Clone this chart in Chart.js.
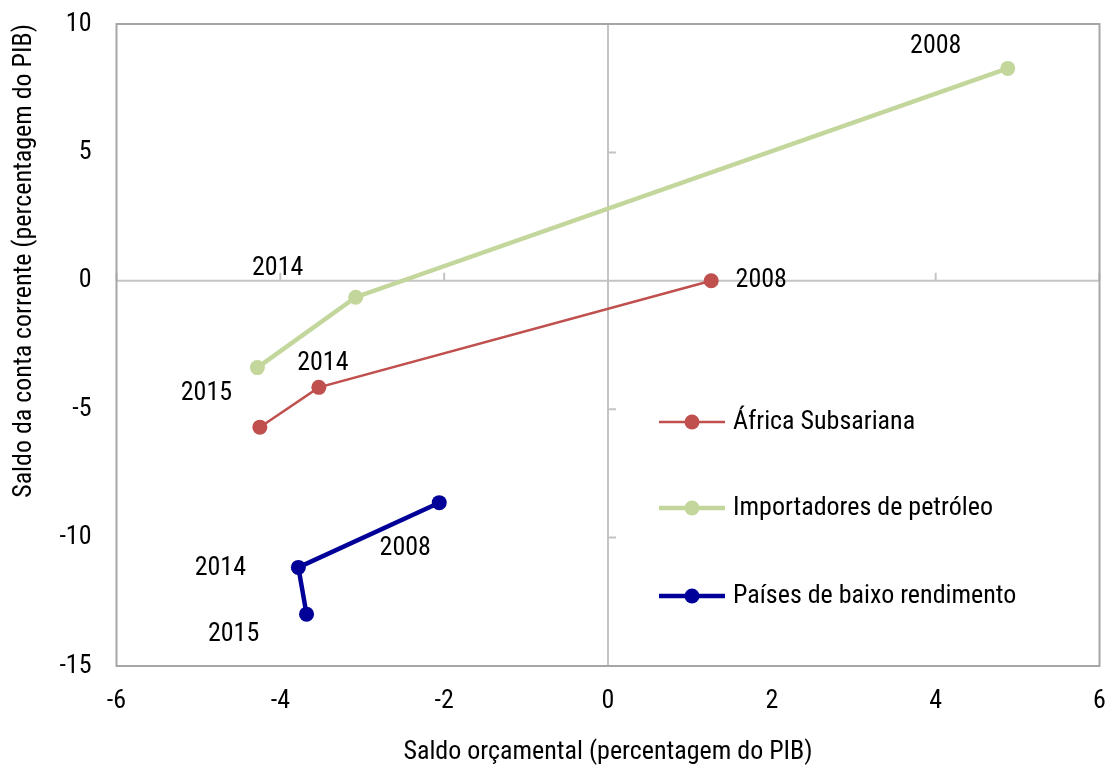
<!DOCTYPE html>
<html>
<head>
  <meta charset="UTF-8">
  <title>Saldo orçamental vs saldo da conta corrente</title>
  <script src="https://cdn.jsdelivr.net/npm/chart.js"></script>
  <style>
    body { margin: 0; background: #fff; }
    canvas { display: block; }
  </style>
</head>
<body>
  <canvas id="chart" width="1107" height="774"></canvas>

  <script>
    // data (x = saldo orçamental, y = saldo da conta corrente)
    const seriesNames = ["África Subsariana", "Importadores de petróleo", "Países de baixo rendimento"];
    const africaX = [1.26, -3.53, -4.25];
    const africaY = [0, -4.15, -5.70];
    const africaYears = ["2008", "2014", ""];
    const importX = [4.88, -3.08, -4.28];
    const importY = [8.27, -0.64, -3.38];
    const importYears = ["2008", "2014", "2015"];
    const lowX = [-2.06, -3.78, -3.68];
    const lowY = [-8.64, -11.16, -12.98];
    const lowYears = ["2008", "2014", "2015"];
    const xTicks = [-6, -4, -2, 0, 2, 4, 6];
    const yTicks = [-15, -10, -5, 0, 5, 10];

    // where each year label sits relative to its point (px)
    const labelOffsets = [
      [[50, 0], [4, -24], null],
      [[-72, -22], [-78, -29], [-51, 26]],
      [[-34, 46], [-78, 1], [-73, 20]]
    ];
    const legendRows = [422, 508, 596];

    const FONT = "'Roboto Condensed', 'DejaVu Sans Condensed', sans-serif";
    const FONT_SIZE = 26;
    Chart.defaults.font.family = FONT;
    Chart.defaults.font.size = FONT_SIZE;
    Chart.defaults.color = "#000";

    const toPoints = (xs, ys) => xs.map((v, i) => ({ x: v, y: ys[i] }));

    const decor = {
      id: "decor",
      beforeDatasetsDraw(chart) {
        const { ctx, chartArea: a, scales: { x, y } } = chart;
        const x0 = x.getPixelForValue(0), y0 = y.getPixelForValue(0);
        ctx.save();
        ctx.lineWidth = 2;
        ctx.strokeStyle = "#c4c4c4";
        ctx.beginPath();
        ctx.moveTo(a.left, y0); ctx.lineTo(a.right, y0);
        ctx.moveTo(x0, a.top); ctx.lineTo(x0, a.bottom);
        xTicks.forEach(v => { const p = x.getPixelForValue(v); ctx.moveTo(p, y0); ctx.lineTo(p, y0 - 8); });
        yTicks.forEach(v => { const p = y.getPixelForValue(v); ctx.moveTo(x0, p); ctx.lineTo(x0 + 8, p); });
        ctx.stroke();
        ctx.strokeStyle = "#a6a6a6";
        ctx.strokeRect(a.left, a.top, a.right - a.left, a.bottom - a.top);
        ctx.restore();
      },
      afterDatasetsDraw(chart) {
        const { ctx } = chart;
        ctx.save();
        ctx.font = FONT_SIZE + "px " + FONT;
        ctx.fillStyle = "#000";
        ctx.textBaseline = "middle";
        chart.data.datasets.forEach((ds, i) => {
          // year labels
          ctx.textAlign = "center";
          chart.getDatasetMeta(i).data.forEach((pt, j) => {
            const off = labelOffsets[i][j];
            if (!off || !ds.years[j]) return;
            ctx.fillText(ds.years[j], pt.x + off[0], pt.y + off[1]);
          });
          // legend
          const ly = legendRows[i];
          ctx.strokeStyle = ds.borderColor;
          ctx.lineWidth = ds.borderWidth;
          ctx.beginPath(); ctx.moveTo(659, ly); ctx.lineTo(725, ly); ctx.stroke();
          ctx.fillStyle = ds.pointBackgroundColor;
          ctx.beginPath(); ctx.arc(692, ly, 7.5, 0, Math.PI * 2); ctx.fill();
          ctx.fillStyle = "#000";
          ctx.textAlign = "left";
          ctx.fillText(ds.label, 733, ly);
        });
        ctx.restore();
      }
    };

    new Chart(document.getElementById("chart"), {
      type: "scatter",
      data: {
        datasets: [
          { label: seriesNames[0], data: toPoints(africaX, africaY), years: africaYears,
            borderColor: "#c0504d", backgroundColor: "#c0504d", pointBackgroundColor: "#c0504d", borderWidth: 2.5 },
          { label: seriesNames[1], data: toPoints(importX, importY), years: importYears,
            borderColor: "#c3d69b", backgroundColor: "#c3d69b", pointBackgroundColor: "#c3d69b", borderWidth: 4.5 },
          { label: seriesNames[2], data: toPoints(lowX, lowY), years: lowYears,
            borderColor: "#000099", backgroundColor: "#000099", pointBackgroundColor: "#000099", borderWidth: 4.5 }
        ].map(d => Object.assign(d, { showLine: true, pointRadius: 7.5, pointBorderWidth: 0, pointHoverRadius: 7.5 }))
      },
      options: {
        responsive: false,
        animation: false,
        layout: { padding: { top: 24, right: 6, left: 0, bottom: 0 } },
        plugins: { legend: { display: false }, tooltip: { enabled: false } },
        scales: {
          x: {
            type: "linear", min: -6, max: 6,
            afterBuildTicks: s => { s.ticks = xTicks.map(v => ({ value: v })); },
            afterFit: s => { s.height = 108; s.paddingLeft = 0; s.paddingRight = 0; },
            grid: { display: false, drawTicks: false },
            border: { display: false },
            ticks: { padding: 20, maxRotation: 0 },
            title: { display: true, text: "Saldo orçamental (percentagem do PIB)", padding: { top: 0, bottom: 6 } }
          },
          y: {
            type: "linear", min: -15, max: 10,
            afterBuildTicks: s => { s.ticks = yTicks.map(v => ({ value: v })); },
            afterFit: s => { s.width = 116.5; s.paddingTop = 0; s.paddingBottom = 0; },
            grid: { display: false, drawTicks: false },
            border: { display: false },
            ticks: { padding: 25 },
            title: { display: true, text: "Saldo da conta corrente (percentagem do PIB)", align: "end", padding: { top: 9, bottom: 0 } }
          }
        }
      },
      plugins: [decor]
    });
  </script>
</body>
</html>
